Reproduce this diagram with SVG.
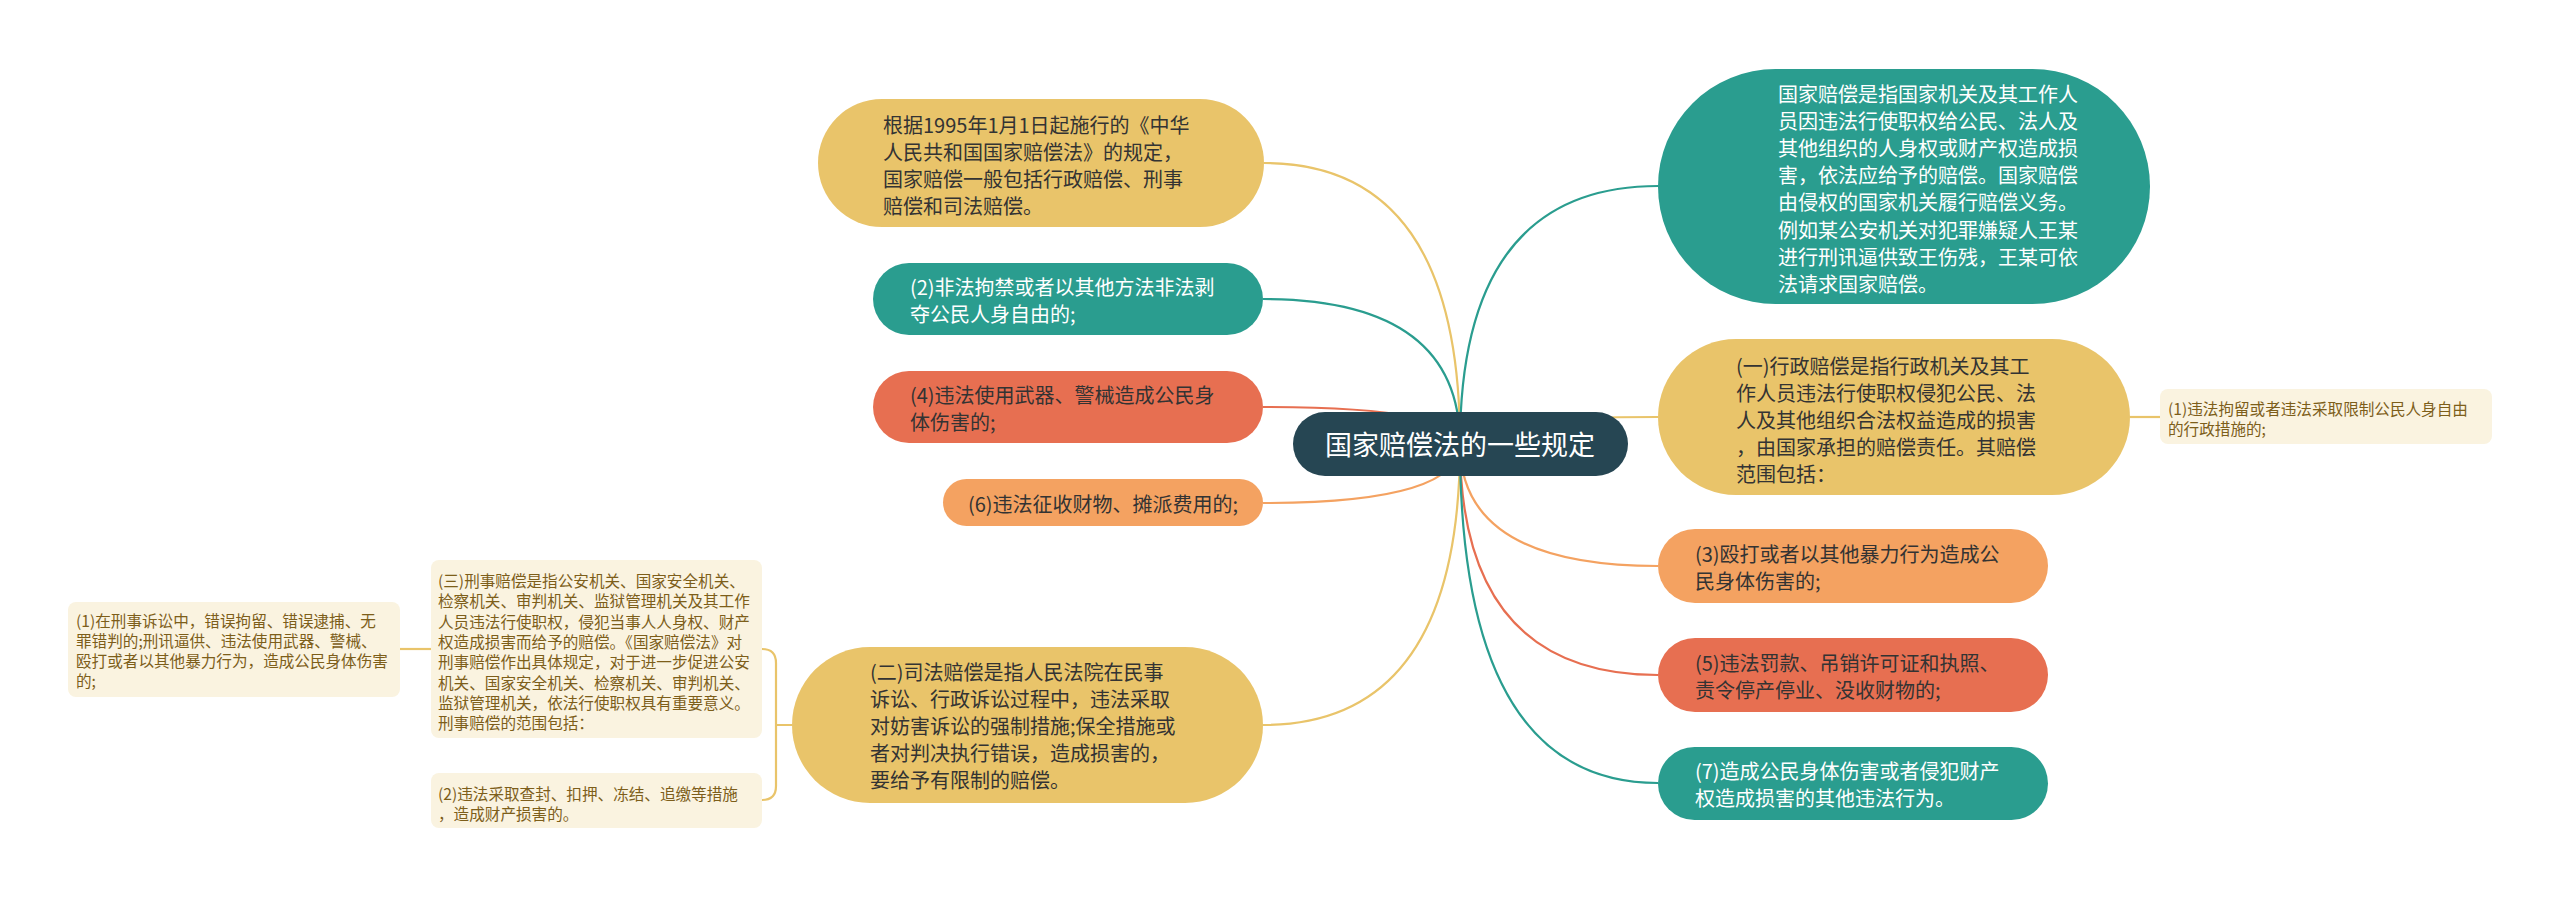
<svg xmlns="http://www.w3.org/2000/svg" width="2560" height="897" viewBox="0 0 2560 897">
<style>
text{font-family:"Noto Sans CJK SC","Noto Sans",sans-serif;dominant-baseline:central}
.m{font-size:20px}
.s{font-size:15.6px;fill:#7D5E1A}
.w{fill:#ffffff}
.d{fill:#333333}
.c{fill:none;stroke-width:2.2}
.y{fill:#E9C46A}.t{fill:#2A9D8F}.r{fill:#E76F51}.o{fill:#F4A261}.k{fill:#FAF3E0}
</style>
<rect width="2560" height="897" fill="#ffffff"/>
<g id="connectors">
<path class="c" stroke="#E9C46A" d="M1460,444 Q1460,163 1264,163"/>
<path class="c" stroke="#2A9D8F" d="M1460,444 Q1460,299 1263,299"/>
<path class="c" stroke="#E76F51" d="M1460,444 Q1460,407 1263,407"/>
<path class="c" stroke="#F4A261" d="M1460,444 Q1460,503 1263,503"/>
<path class="c" stroke="#E9C46A" d="M1460,444 Q1460,725 1263,725"/>
<path class="c" stroke="#2A9D8F" d="M1460,444 Q1460,186 1658,186"/>
<path class="c" stroke="#E9C46A" d="M1460,444 Q1460,417 1658,417"/>
<path class="c" stroke="#F4A261" d="M1460,444 Q1460,566 1658,566"/>
<path class="c" stroke="#E76F51" d="M1460,444 Q1460,675 1658,675"/>
<path class="c" stroke="#2A9D8F" d="M1460,444 Q1460,783 1658,783"/>
<path class="c" stroke="#E9C46A" d="M2130,417 H2160"/>
<path class="c" stroke="#E9C46A" d="M400,649 H431"/>
<path class="c" stroke="#E9C46A" d="M762,649 Q776,649 776,663 V786 Q776,800 762,800 M776,725 H792"/>
</g>
<g id="root">
<rect x="1293" y="412" width="335" height="64" rx="32" fill="#264653"/>
<text x="1460" y="443" text-anchor="middle" class="w" style="font-size:27px">国家赔偿法的一些规定</text>
</g>
<g id="n-intro">
<rect x="818" y="99" width="446" height="128" rx="64" class="y"/>
<text class="m d" x="883"><tspan x="883" y="124">根据1995年1月1日起施行的《中华</tspan><tspan x="883" y="151">人民共和国国家赔偿法》的规定，</tspan><tspan x="883" y="178">国家赔偿一般包括行政赔偿、刑事</tspan><tspan x="883" y="205">赔偿和司法赔偿。</tspan></text>
</g>
<g id="n-2">
<rect x="873" y="263" width="390" height="72" rx="36" class="t"/>
<text class="m w"><tspan x="910" y="286">(2)非法拘禁或者以其他方法非法剥</tspan><tspan x="910" y="313">夺公民人身自由的;</tspan></text>
</g>
<g id="n-4">
<rect x="873" y="371" width="390" height="72" rx="36" class="r"/>
<text class="m d"><tspan x="910" y="394">(4)违法使用武器、警械造成公民身</tspan><tspan x="910" y="421">体伤害的;</tspan></text>
</g>
<g id="n-6">
<rect x="943" y="479" width="320" height="47" rx="23.5" class="o"/>
<text class="m d" x="968" y="503">(6)违法征收财物、摊派费用的;</text>
</g>
<g id="n-judicial">
<rect x="792" y="647" width="471" height="156" rx="78" class="y"/>
<text class="m d"><tspan x="870" y="671">(二)司法赔偿是指人民法院在民事</tspan><tspan x="870" y="698">诉讼、行政诉讼过程中，违法采取</tspan><tspan x="870" y="725">对妨害诉讼的强制措施;保全措施或</tspan><tspan x="870" y="752">者对判决执行错误，造成损害的，</tspan><tspan x="870" y="779">要给予有限制的赔偿。</tspan></text>
</g>
<g id="n-criminal">
<rect x="431" y="560" width="331" height="178" rx="8" class="k"/>
<text class="s"><tspan x="438" y="580">(三)刑事赔偿是指公安机关、国家安全机关、</tspan><tspan x="438" y="600.3">检察机关、审判机关、监狱管理机关及其工作</tspan><tspan x="438" y="620.6">人员违法行使职权，侵犯当事人人身权、财产</tspan><tspan x="438" y="640.9">权造成损害而给予的赔偿。《国家赔偿法》对</tspan><tspan x="438" y="661.2">刑事赔偿作出具体规定，对于进一步促进公安</tspan><tspan x="438" y="681.5">机关、国家安全机关、检察机关、审判机关、</tspan><tspan x="438" y="701.8">监狱管理机关，依法行使职权具有重要意义。</tspan><tspan x="438" y="722.1">刑事赔偿的范围包括：</tspan></text>
</g>
<g id="n-c1">
<rect x="68" y="602" width="332" height="95" rx="8" class="k"/>
<text class="s"><tspan x="76" y="620">(1)在刑事诉讼中，错误拘留、错误逮捕、无</tspan><tspan x="76" y="640">罪错判的;刑讯逼供、违法使用武器、警械、</tspan><tspan x="76" y="660">殴打或者以其他暴力行为，造成公民身体伤害</tspan><tspan x="76" y="680">的;</tspan></text>
</g>
<g id="n-c2">
<rect x="431" y="773" width="331" height="55" rx="8" class="k"/>
<text class="s"><tspan x="438" y="793">(2)违法采取查封、扣押、冻结、追缴等措施</tspan><tspan x="438" y="813">，造成财产损害的。</tspan></text>
</g>
<g id="n-def">
<rect x="1658" y="69" width="492" height="235" rx="117.5" class="t"/>
<text class="m w"><tspan x="1778" y="92.5">国家赔偿是指国家机关及其工作人</tspan><tspan x="1778" y="119.7">员因违法行使职权给公民、法人及</tspan><tspan x="1778" y="146.9">其他组织的人身权或财产权造成损</tspan><tspan x="1778" y="174.1">害，依法应给予的赔偿。国家赔偿</tspan><tspan x="1778" y="201.3">由侵权的国家机关履行赔偿义务。</tspan><tspan x="1778" y="228.5">例如某公安机关对犯罪嫌疑人王某</tspan><tspan x="1778" y="255.7">进行刑讯逼供致王伤残，王某可依</tspan><tspan x="1778" y="282.9">法请求国家赔偿。</tspan></text>
</g>
<g id="n-admin">
<rect x="1658" y="339" width="472" height="156" rx="78" class="y"/>
<text class="m d"><tspan x="1736" y="365">(一)行政赔偿是指行政机关及其工</tspan><tspan x="1736" y="392">作人员违法行使职权侵犯公民、法</tspan><tspan x="1736" y="419">人及其他组织合法权益造成的损害</tspan><tspan x="1736" y="446">，由国家承担的赔偿责任。其赔偿</tspan><tspan x="1736" y="473">范围包括：</tspan></text>
</g>
<g id="n-a1">
<rect x="2160" y="389" width="332" height="55" rx="8" class="k"/>
<text class="s"><tspan x="2168" y="408">(1)违法拘留或者违法采取限制公民人身自由</tspan><tspan x="2168" y="428">的行政措施的;</tspan></text>
</g>
<g id="n-3">
<rect x="1658" y="529" width="390" height="74" rx="37" class="o"/>
<text class="m d"><tspan x="1695" y="553">(3)殴打或者以其他暴力行为造成公</tspan><tspan x="1695" y="580">民身体伤害的;</tspan></text>
</g>
<g id="n-5">
<rect x="1658" y="638" width="390" height="74" rx="37" class="r"/>
<text class="m d"><tspan x="1695" y="662">(5)违法罚款、吊销许可证和执照、</tspan><tspan x="1695" y="689">责令停产停业、没收财物的;</tspan></text>
</g>
<g id="n-7">
<rect x="1658" y="747" width="390" height="73" rx="36.5" class="t"/>
<text class="m w"><tspan x="1695" y="770">(7)造成公民身体伤害或者侵犯财产</tspan><tspan x="1695" y="797">权造成损害的其他违法行为。</tspan></text>
</g>
</svg>
